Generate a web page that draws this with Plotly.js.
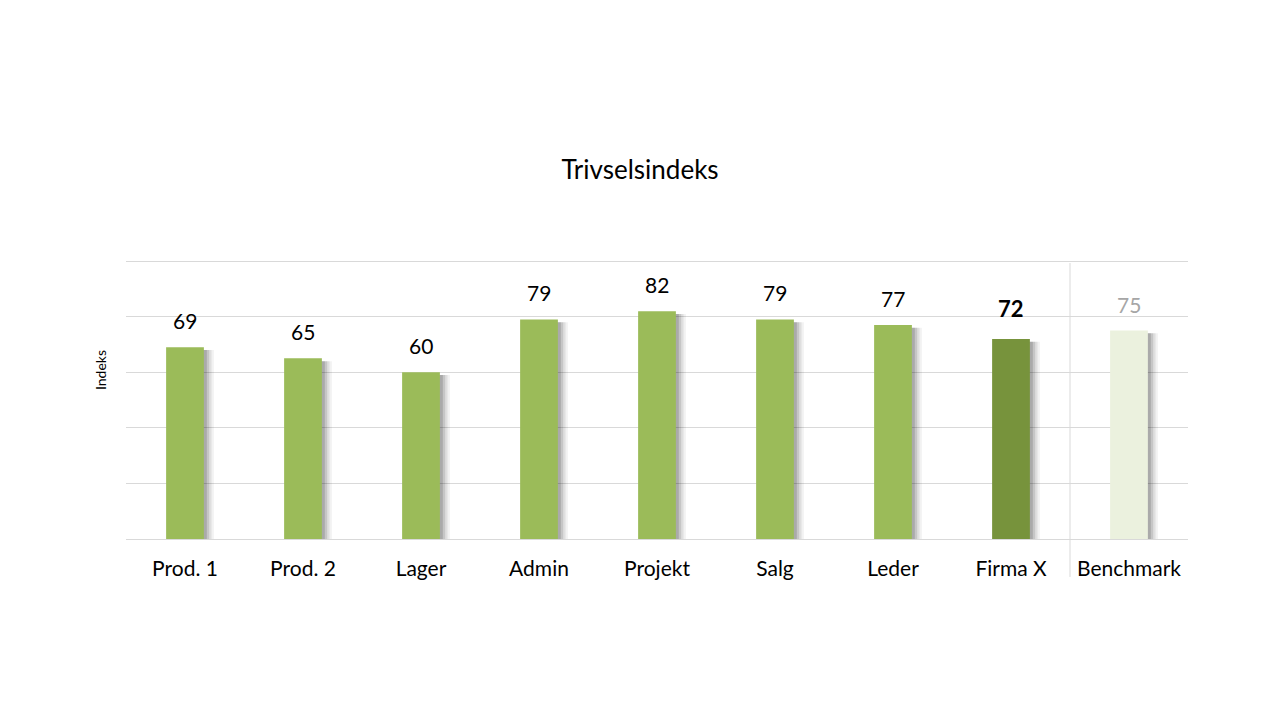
<!DOCTYPE html>
<html>
<head>
<meta charset="utf-8">
<script src="https://cdn.plot.ly/plotly-3.0.1.min.js"></script>
<style>
  body { margin: 0; background: #fff; }
  #chart { width: 1280px; height: 720px; }
</style>
</head>
<body>
<div id="chart"></div>
<script>
// Trivselsindeks per afdeling, plus benchmark
const categories = ['Prod. 1', 'Prod. 2', 'Lager', 'Admin', 'Projekt', 'Salg', 'Leder', 'Firma X', 'Benchmark'];
const values = [69, 65, 60, 79, 82, 79, 77, 72, 75];

const FONT = 'Lato, "Open Sans", sans-serif';
const barColors = categories.map(c => c === 'Firma X' ? '#77933C' : (c === 'Benchmark' ? '#EBF1DE' : '#9BBB59'));
const labelColors = categories.map(c => c === 'Benchmark' ? '#A6A6A6' : '#000000');

const BAR_W = 0.32;

// soft drop shadow: a few transparent layers shifted to the right
const shadowLayers = [
    { shift: 0.085, alpha: 0.05 },
    { shift: 0.065, alpha: 0.08 },
    { shift: 0.045, alpha: 0.11 },
    { shift: 0.025, alpha: 0.14 }
];
const traces = shadowLayers.map(s => ({
    type: 'bar',
    x: categories,
    y: values.map(v => v - 1),
    width: BAR_W,
    offset: -BAR_W / 2 + s.shift,
    marker: { color: `rgba(0,0,0,${s.alpha})` },
    hoverinfo: 'skip',
    showlegend: false
}));

traces.push({
    type: 'bar',
    x: categories,
    y: values,
    width: BAR_W,
    offset: -BAR_W / 2,
    marker: { color: barColors },
    showlegend: false
});

const annotations = categories.map((c, i) => ({
    x: c,
    y: values[i],
    xref: 'x',
    yref: 'y',
    text: c === 'Firma X' ? `<b>${values[i]}</b>` : String(values[i]),
    showarrow: false,
    yanchor: 'bottom',
    yshift: c === 'Firma X' ? 15 : 12,
    font: { family: FONT, size: c === 'Firma X' ? 22 : 21, color: labelColors[i] }
}));

// y axis title, placed by hand a bit above the middle
annotations.push({
    text: 'Indeks',
    xref: 'paper',
    yref: 'paper',
    x: -0.0135,
    y: 0.606,
    xanchor: 'right',
    yanchor: 'middle',
    textangle: -90,
    showarrow: false,
    font: { family: FONT, size: 14, color: '#000000' }
});

const layout = {
    width: 1280,
    height: 720,
    paper_bgcolor: '#ffffff',
    plot_bgcolor: '#ffffff',
    margin: { l: 126, r: 92, t: 260, b: 181 },
    barmode: 'overlay',
    title: {
        text: 'Trivselsindeks',
        xref: 'container',
        yref: 'container',
        x: 0.5,
        y: 0.764,
        xanchor: 'center',
        yanchor: 'middle',
        font: { family: FONT, size: 26, color: '#000000' }
    },
    xaxis: {
        type: 'category',
        showgrid: false,
        zeroline: false,
        showline: false,
        ticks: '',
        ticklabelstandoff: 15,
        tickfont: { family: FONT, size: 21, color: '#000000' },
        fixedrange: true
    },
    yaxis: {
        range: [0, 100.4],
        tickvals: [0, 20, 40, 60, 80, 100],
        showgrid: true,
        gridcolor: '#D9D9D9',
        gridwidth: 1,
        zeroline: true,
        zerolinecolor: '#D9D9D9',
        showticklabels: false,
        ticks: '',
        fixedrange: true
    },
    shapes: [{
        type: 'line',
        xref: 'x',
        yref: 'paper',
        x0: 7.5, x1: 7.5,
        y0: -0.136, y1: 0.989,
        line: { color: '#D9D9D9', width: 1 }
    }],
    annotations: annotations
};

Plotly.newPlot('chart', traces, layout, { displayModeBar: false, staticPlot: true });
</script>
</body>
</html>
